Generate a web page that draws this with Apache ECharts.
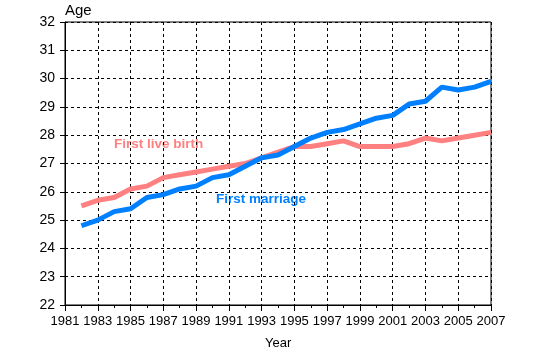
<!DOCTYPE html>
<html>
<head>
<meta charset="utf-8">
<script src="https://cdn.jsdelivr.net/npm/echarts@6/dist/echarts.min.js"></script>
<style>
  html, body { margin: 0; padding: 0; background: #fff; }
  #chart { width: 560px; height: 353px; }
</style>
</head>
<body>
<div id="chart"></div>
<script>
var years = [1982, 1983, 1984, 1985, 1986, 1987, 1988, 1989, 1990, 1991, 1992, 1993, 1994,
  1995, 1996, 1997, 1998, 1999, 2000, 2001, 2002, 2003, 2004, 2005, 2006, 2007];
var firstBirth = [25.5, 25.7, 25.8, 26.1, 26.2, 26.5, 26.6, 26.7, 26.8, 26.9, 27.0, 27.2, 27.4,
  27.6, 27.6, 27.7, 27.8, 27.6, 27.6, 27.6, 27.7, 27.9, 27.8, 27.9, 28.0, 28.1];
var firstMarriage = [24.8, 25.0, 25.3, 25.4, 25.8, 25.9, 26.1, 26.2, 26.5, 26.6, 26.9, 27.2, 27.3,
  27.6, 27.9, 28.1, 28.2, 28.4, 28.6, 28.7, 29.1, 29.2, 29.7, 29.6, 29.7, 29.9];

function pairs(vals) {
  return years.map(function (y, i) { return [y, vals[i]]; });
}

var chart = echarts.init(document.getElementById('chart'));
var font = 'Liberation Sans, Arial, sans-serif';

var option = {
  animation: false,
  grid: {
    left: 65, right: 69, top: 22, bottom: 48,
    show: true, borderColor: '#000', borderWidth: 1
  },
  xAxis: {
    type: 'value', min: 1981, max: 2007, interval: 2,
    axisLine: { lineStyle: { color: '#000', width: 1 } },
    axisTick: { length: 6, lineStyle: { color: '#000' } },
    minorTick: { show: true, splitNumber: 2, length: 3, lineStyle: { color: '#000' } },
    splitLine: { lineStyle: { color: '#000', type: [3, 3], width: 1 } },
    axisLabel: { color: '#000', fontFamily: font, fontSize: 13, margin: 10,
      formatter: function (v) { return String(v); } }
  },
  yAxis: {
    type: 'value', min: 22, max: 32, interval: 1,
    axisLine: { show: true, lineStyle: { color: '#000', width: 1 } },
    axisTick: { show: true, length: 5, lineStyle: { color: '#000' } },
    splitLine: { lineStyle: { color: '#000', type: [3, 3], width: 1 } },
    axisLabel: { color: '#000', fontFamily: font, fontSize: 14, margin: 10 }
  },
  graphic: [
    { type: 'text', left: 65, top: 3, style: { text: 'Age', fontFamily: font, fontSize: 15, fill: '#000' } },
    { type: 'text', left: 265, top: 337, style: { text: 'Year', fontFamily: font, fontSize: 13, fill: '#000' } },
    { type: 'text', left: 114, top: 137, style: { text: 'First live birth', fontFamily: font, fontSize: 13.5, fontWeight: 'bold', fill: '#FF8080' } },
    { type: 'text', left: 216, top: 192, style: { text: 'First marriage', fontFamily: font, fontSize: 13.5, fontWeight: 'bold', fill: '#0080FF' } }
  ],
  series: [
    {
      name: 'First live birth', type: 'line', data: pairs(firstBirth),
      showSymbol: false, lineStyle: { color: '#FF8080', width: 5 }
    },
    {
      name: 'First marriage', type: 'line', data: pairs(firstMarriage),
      showSymbol: false, lineStyle: { color: '#0080FF', width: 5 }
    }
  ]
};

chart.setOption(option);
</script>
</body>
</html>
